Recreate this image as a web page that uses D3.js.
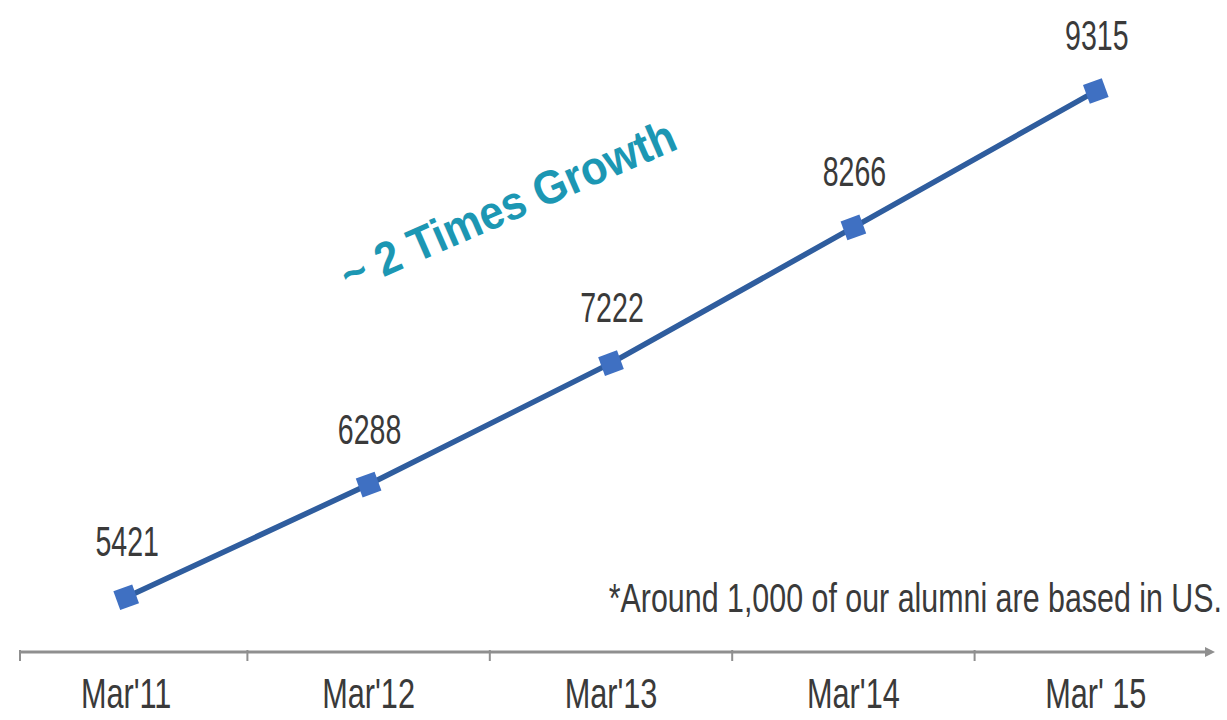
<!DOCTYPE html>
<html>
<head>
<meta charset="utf-8">
<script src="https://cdn.jsdelivr.net/npm/d3@7"></script>
<style>
  html, body { margin: 0; padding: 0; background: #fff; }
  svg { display: block; }
  text { font-family: "Liberation Sans", Arial, sans-serif; }
</style>
</head>
<body>
<svg id="chart" width="1227" height="720"></svg>
<script>
const categories = ["Mar'11", "Mar'12", "Mar'13", "Mar'14", "Mar' 15"];
const values = [5421, 6288, 7222, 8266, 9315];
const annotation = "~ 2 Times Growth";
const footnote = "*Around 1,000 of our alumni are based in US.";

const svg = d3.select("#chart");
const baseY = 652;
const SX = 0.68; // condensed look

const x = d3.scaleBand().domain(categories).range([5, 1217]).paddingInner(0).paddingOuter(0);
const y = d3.scaleLinear().domain([5000, 9500]).range([baseY, 67]);

// axis
const axisG = svg.append("g").attr("transform", `translate(0,${baseY})`);
axisG.append("line")
  .attr("x1", 20).attr("x2", 1210)
  .attr("y1", 0).attr("y2", 0)
  .attr("stroke", "#8f8f8f").attr("stroke-width", 3);
const tickPos = [20].concat(categories.slice(1).map(c => x(c)));
axisG.selectAll("line.tick").data(tickPos).enter()
  .append("line").attr("class", "tick")
  .attr("x1", d => d).attr("x2", d => d)
  .attr("y1", -2).attr("y2", 9)
  .attr("stroke", "#8f8f8f").attr("stroke-width", 2);
axisG.append("path")
  .attr("d", "M1205,-5 L1215,0 L1205,5 Z")
  .attr("fill", "#8f8f8f");

axisG.selectAll("text.cat").data(categories).enter()
  .append("text").attr("class", "cat")
  .attr("transform", d => `translate(${x(d) + x.bandwidth() / 2},56) scale(0.73,1)`)
  .attr("text-anchor", "middle")
  .attr("font-size", 42)
  .attr("fill", "#3a3a3a")
  .text(d => d);

// line
const pts = categories.map((c, i) => [x(c) + x.bandwidth() / 2, y(values[i])]);
svg.append("path")
  .datum(pts)
  .attr("d", d3.line())
  .attr("fill", "none")
  .attr("stroke", "#2f5d9e")
  .attr("stroke-width", 5.5)
  .attr("stroke-linejoin", "round");

// markers
svg.selectAll("rect.mk").data(pts).enter()
  .append("rect").attr("class", "mk")
  .attr("x", d => d[0] - 10).attr("y", d => d[1] - 10)
  .attr("width", 20).attr("height", 20)
  .attr("fill", "#3f70c2")
  .attr("transform", d => `rotate(-20,${d[0]},${d[1]})`);

// data labels
svg.selectAll("text.lbl").data(pts).enter()
  .append("text").attr("class", "lbl")
  .attr("transform", d => `translate(${d[0] + 1},${d[1] - 41}) scale(${SX},1)`)
  .attr("text-anchor", "middle")
  .attr("font-size", 42)
  .attr("fill", "#3a3a3a")
  .text((d, i) => values[i]);

// annotation
svg.append("text")
  .attr("transform", "translate(349,292) rotate(-23.5) scale(0.92,1)")
  .attr("font-size", 47)
  .attr("font-weight", "bold")
  .attr("fill", "#1c97b3")
  .text(annotation);

// footnote
svg.append("text")
  .attr("transform", `translate(1222,612) scale(0.76,1)`)
  .attr("text-anchor", "end")
  .attr("font-size", 40)
  .attr("fill", "#3a3a3a")
  .text(footnote);
</script>
</body>
</html>
